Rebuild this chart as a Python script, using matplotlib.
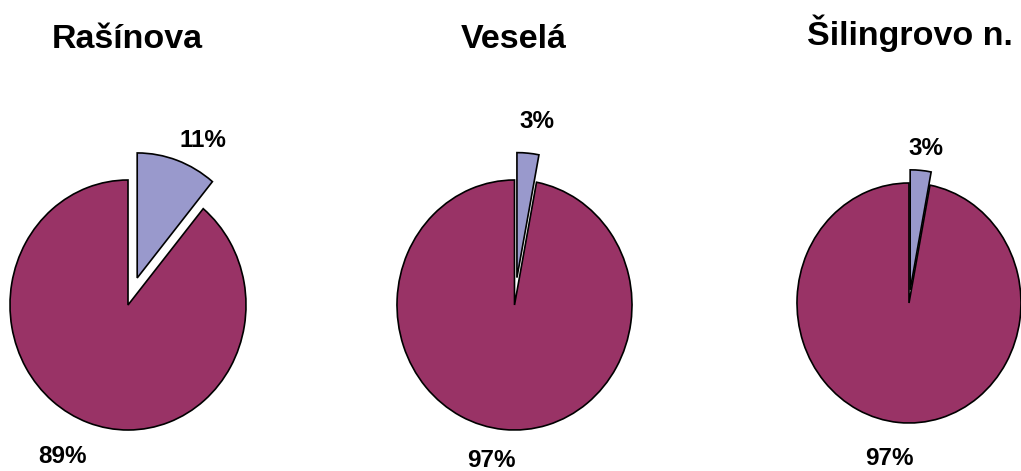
import matplotlib.pyplot as plt

plt.rcParams['font.family'] = ['Liberation Sans', 'DejaVu Sans']

titles = ['Rašínova', 'Veselá', 'Šilingrovo n.']
small_share = [11, 3, 3]
large_share = [89, 97, 97]
colors = ['#9999CC', '#993366']

W, H = 1021, 471
# pie placement in pixels: centre x, centre y (from top), radius x, radius y, explode
layout = [
	(128, 305, 118, 125, 0.23),
	(514.5, 305, 117.5, 125, 0.22),
	(909, 303, 112, 120, 0.11),
]
title_pos = [(127, 48), (514, 48), (910, 45)]
small_pos = [(203, 147), (537, 128), (926, 155)]
large_pos = [(62, 463), (491, 467), (889, 465)]

fig = plt.figure(figsize=(W/100, H/100), dpi=100)

for i in range(3):
	cx, cy, rx, ry, ex = layout[i]
	ax = fig.add_axes([(cx - 1.5*rx)/W, 1 - (cy + 1.5*ry)/H, 3*rx/W, 3*ry/H])
	ax.pie([small_share[i], large_share[i]], colors=colors, startangle=90,
		counterclock=False, explode=[ex, 0], radius=1,
		wedgeprops=dict(edgecolor='black', linewidth=1.2))
	ax.set_aspect('auto')
	ax.set_xlim(-1.5, 1.5)
	ax.set_ylim(-1.5, 1.5)
	ax.axis('off')

	tx, ty = title_pos[i]
	fig.text(tx/W, 1 - ty/H, titles[i], ha='center', va='baseline',
		fontsize=24.5, fontweight='bold')
	sx, sy = small_pos[i]
	fig.text(sx/W, 1 - sy/H, f'{small_share[i]}%', ha='center', va='baseline',
		fontsize=17.5, fontweight='bold')
	lx, ly = large_pos[i]
	fig.text(lx/W, 1 - ly/H, f'{large_share[i]}%', ha='center', va='baseline',
		fontsize=17.5, fontweight='bold')

fig.savefig('out.png', dpi=100, facecolor='white')
